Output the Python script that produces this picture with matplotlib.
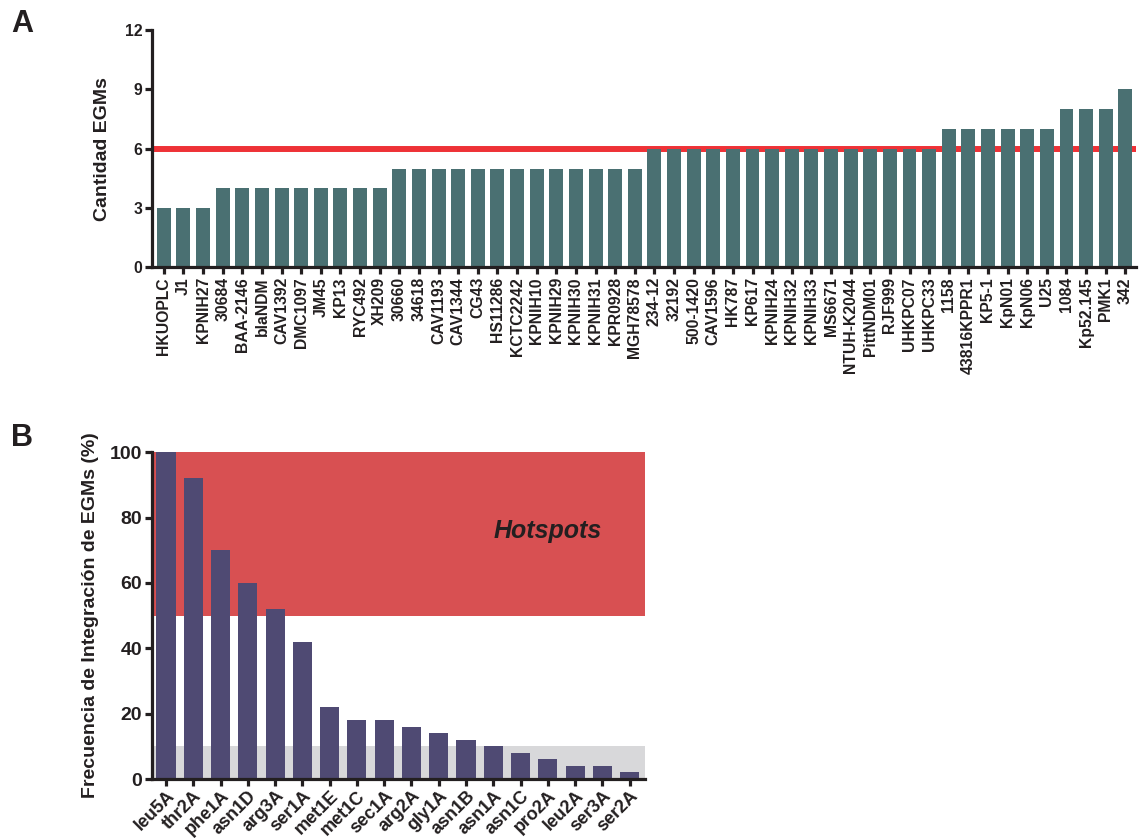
import numpy as np
import matplotlib
matplotlib.use("Agg")
import matplotlib.pyplot as plt

plt.rcParams['font.family'] = ['Liberation Sans', 'DejaVu Sans']
plt.rcParams['font.weight'] = 'bold'

# Panel A: EGM count per genome
cepas = ['HKUOPLC', 'J1', 'KPNIH27', '30684', 'BAA-2146', 'blaNDM', 'CAV1392',
         'DMC1097', 'JM45', 'KP13', 'RYC492', 'XH209', '30660', '34618',
         'CAV1193', 'CAV1344', 'CG43', 'HS11286', 'KCTC2242', 'KPNIH10',
         'KPNIH29', 'KPNIH30', 'KPNIH31', 'KPR0928', 'MGH78578', '234-12',
         '32192', '500-1420', 'CAV1596', 'HK787', 'KP617', 'KPNIH24',
         'KPNIH32', 'KPNIH33', 'MS6671', 'NTUH-K2044', 'PittNDM01', 'RJF999',
         'UHKPC07', 'UHKPC33', '1158', '43816KPPR1', 'KP5-1', 'KpN01',
         'KpN06', 'U25', '1084', 'Kp52.145', 'PMK1', '342']
cantidad = [3, 3, 3, 4, 4, 4, 4, 4, 4, 4, 4, 4, 5, 5, 5, 5, 5, 5, 5, 5, 5, 5,
            5, 5, 5, 6, 6, 6, 6, 6, 6, 6, 6, 6, 6, 6, 6, 6, 6, 6, 7, 7, 7, 7,
            7, 7, 8, 8, 8, 9]
umbral = 6

# Panel B: integration frequency per tRNA locus
loci = ['leu5A', 'thr2A', 'phe1A', 'asn1D', 'arg3A', 'ser1A', 'met1E', 'met1C',
        'sec1A', 'arg2A', 'gly1A', 'asn1B', 'asn1A', 'asn1C', 'pro2A', 'leu2A',
        'ser3A', 'ser2A']
frecuencia = [100, 92, 70, 60, 52, 42, 22, 18, 18, 16, 14, 12, 10, 8, 6, 4, 4, 2]

negro = '#231f20'
fig = plt.figure(figsize=(11.39, 8.38), dpi=100)


def estilo(ax, size):
    for s in ['top', 'right']:
        ax.spines[s].set_visible(False)
    for s in ['left', 'bottom']:
        ax.spines[s].set_linewidth(2.3)
        ax.spines[s].set_color(negro)
    ax.tick_params(axis='both', width=2.3, length=5, color=negro,
                   labelcolor=negro, labelsize=size, pad=2)


# ---- A ----
axA = fig.add_axes([0.1335, 0.681, 0.864, 0.283])
xa = np.arange(len(cepas))
axA.axhline(umbral, color='#ee3237', lw=4.3, zorder=1)
axA.bar(xa, cantidad, width=0.71, color='#4a7072', zorder=2)
axA.set_xlim(-0.6, len(cepas) - 0.45)
axA.set_ylim(0, 12)
axA.set_yticks([0, 3, 6, 9, 12])
axA.set_xticks(xa)
axA.set_xticklabels(cepas, rotation=90)
estilo(axA, 11.3)
axA.set_ylabel('Cantidad EGMs', fontsize=14, fontweight='bold', color=negro,
               labelpad=10)
fig.text(0.010, 0.962, 'A', fontsize=22, fontweight='bold', color=negro)

# ---- B ----
axB = fig.add_axes([0.1335, 0.0704, 0.433, 0.390])
xb = np.arange(len(loci))
axB.axhspan(50, 100, color='#d85052', lw=0, zorder=0)
axB.axhspan(0, 10, color='#d8d8da', lw=0, zorder=0)
axB.bar(xb, frecuencia, width=0.70, color='#4f4a73', zorder=2)
axB.set_xlim(-0.51, len(loci) - 0.43)
axB.set_ylim(0, 100)
axB.set_yticks([0, 20, 40, 60, 80, 100])
axB.set_xticks(xb)
estilo(axB, 14)
axB.set_xticklabels(loci, rotation=45, ha='right', rotation_mode='anchor',
                    fontsize=13)
axB.tick_params(axis='x', pad=1)
axB.set_ylabel('Frecuencia de Integración de EGMs (%)', fontsize=14,
               fontweight='bold', color=negro, labelpad=8)
axB.text(14.0, 76, 'Hotspots', fontsize=18, fontweight='bold',
         fontstyle='italic', color=negro, ha='center', va='center', zorder=3)
fig.text(0.010, 0.468, 'B', fontsize=22, fontweight='bold', color=negro)

fig.savefig('out.png', dpi=100)
